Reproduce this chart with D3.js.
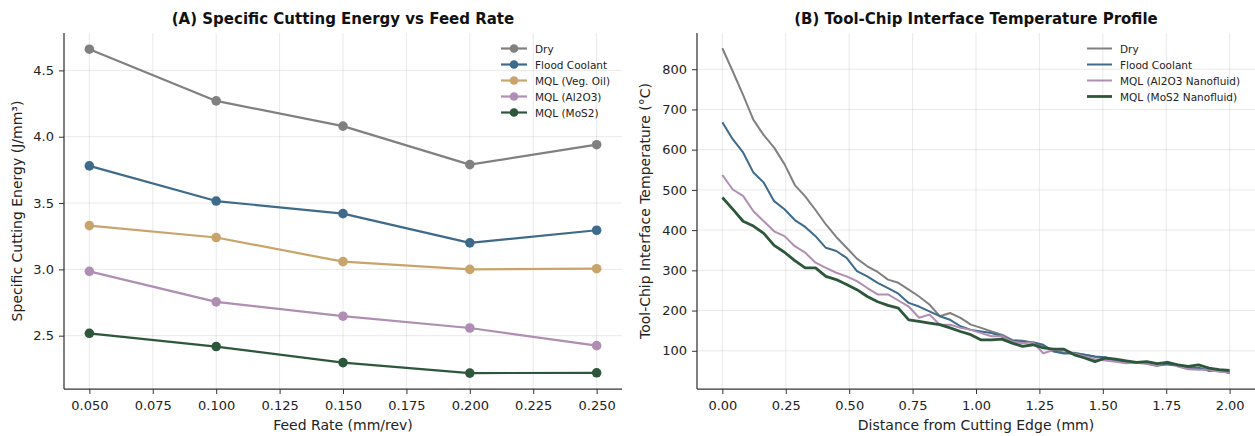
<!DOCTYPE html>
<html><head><meta charset="utf-8">
<script src="https://cdn.jsdelivr.net/npm/d3@7"></script>
<style>
body{margin:0;background:#fff;}
svg{display:block;font-family:"DejaVu Sans",sans-serif;}
</style></head><body>
<svg id="chart" width="1255" height="436"></svg>
<script>
// ---------- Panel A data ----------
const feedRates = [0.05, 0.10, 0.15, 0.20, 0.25];
const energyDry = [4.66, 4.27, 4.08, 3.79, 3.94];
const energyFlood = [3.78, 3.515, 3.42, 3.20, 3.295];
const energyVeg = [3.33, 3.24, 3.058, 3.00, 3.005];
const energyAl2O3 = [2.985, 2.755, 2.647, 2.558, 2.425];
const energyMoS2 = [2.518, 2.418, 2.297, 2.218, 2.22];
const feedTicks = [0.050, 0.075, 0.100, 0.125, 0.150, 0.175, 0.200, 0.225, 0.250];
const energyTicks = [2.5, 3.0, 3.5, 4.0, 4.5];

// ---------- Panel B data ----------
const distance = d3.range(50).map(i => i * 2 / 49); // 50 sample positions 0..2 mm
const tempDry = [852,795,736,674,636,605,564,512,484,450,414,383,356,329,310,296,277,269,252,235,215,186,194,182,165,157,148,140,127,125,120,112,100,96,95,90,85,80,76,72,70,68,62,68,65,60,56,52,52,48];
const tempFlood = [668,626,593,543,518,472,452,425,408,385,356,348,331,298,285,269,256,242,219,210,198,186,177,161,152,148,144,136,125,123,121,115,98,93,94,90,86,84,78,72,71,71,66,66,63,58,58,50,52,44];
const tempAl2O3 = [537,501,485,447,422,397,385,360,344,319,306,294,285,273,256,240,240,225,210,182,190,165,165,157,152,144,136,136,123,119,121,94,102,102,93,86,79,76,73,69,71,69,63,73,61,54,53,53,48,46];
const tempMoS2 = [481,452,422,410,392,362,345,324,306,306,285,277,265,252,235,222,213,206,177,173,169,165,157,148,140,127,127,129,119,111,115,107,104,104,90,82,73,82,79,75,71,73,68,71,65,61,65,57,53,51];
const distTicks = [0, 0.25, 0.5, 0.75, 1.0, 1.25, 1.5, 1.75, 2.0];
const tempTicks = [100, 200, 300, 400, 500, 600, 700, 800];

const svg = d3.select("#chart");

const seriesA = [
  {name:"Dry", values:energyDry, color:"#808080"},
  {name:"Flood Coolant", values:energyFlood, color:"#3e6a8b"},
  {name:"MQL (Veg. Oil)", values:energyVeg, color:"#c9a46a"},
  {name:"MQL (Al2O3)", values:energyAl2O3, color:"#b08db3"},
  {name:"MQL (MoS2)", values:energyMoS2, color:"#2d573b"}
];
const seriesB = [
  {name:"Dry", values:tempDry, color:"#808080", w:2},
  {name:"Flood Coolant", values:tempFlood, color:"#3e6a8b", w:2},
  {name:"MQL (Al2O3 Nanofluid)", values:tempAl2O3, color:"#b08db3", w:2},
  {name:"MQL (MoS2 Nanofluid)", values:tempMoS2, color:"#2d573b", w:2.8}
];

function panel(cfg){
  const g = svg.append("g");
  const x = d3.scaleLinear().domain(cfg.xDomain).range([cfg.left, cfg.right]);
  const y = d3.scaleLinear().domain(cfg.yDomain).range([cfg.bottom, cfg.top]);
  // grid
  g.append("g").selectAll("line").data(cfg.xTicks).join("line")
    .attr("x1", d=>x(d)).attr("x2", d=>x(d)).attr("y1", cfg.top).attr("y2", cfg.bottom)
    .attr("stroke","#b0b0b0").attr("stroke-opacity",0.35).attr("stroke-width",0.8);
  g.append("g").selectAll("line").data(cfg.yTicks).join("line")
    .attr("y1", d=>y(d)).attr("y2", d=>y(d)).attr("x1", cfg.left).attr("x2", cfg.right)
    .attr("stroke","#b0b0b0").attr("stroke-opacity",0.35).attr("stroke-width",0.8);
  // axes
  const xa = g.append("g").attr("transform",`translate(0,${cfg.bottom})`)
    .call(d3.axisBottom(x).tickValues(cfg.xTicks).tickFormat(d3.format(cfg.xFmt)).tickSizeOuter(0).tickSize(5).tickPadding(7));
  const ya = g.append("g").attr("transform",`translate(${cfg.left},0)`)
    .call(d3.axisLeft(y).tickValues(cfg.yTicks).tickFormat(d3.format(cfg.yFmt)).tickSizeOuter(0).tickSize(5).tickPadding(5));
  [xa,ya].forEach(a=>{
    a.select(".domain").attr("stroke","#333").attr("stroke-width",1.25);
    a.selectAll(".tick line").attr("stroke","#333").attr("stroke-width",1);
    a.selectAll(".tick text").attr("fill","#222").style("font-size","13px").style("font-family","DejaVu Sans");
  });
  xa.select(".domain").attr("d",`M${cfg.left},0H${cfg.right}`);
  ya.select(".domain").attr("d",`M0,${cfg.top}V${cfg.bottom}`);
  // labels
  g.append("text").attr("x",(cfg.left+cfg.right)/2).attr("y",23.5).attr("text-anchor","middle")
    .style("font-size","15px").style("font-weight","bold").attr("fill","#111").text(cfg.title);
  g.append("text").attr("x",(cfg.left+cfg.right)/2).attr("y",430).attr("text-anchor","middle")
    .style("font-size","14px").attr("fill","#222").text(cfg.xLabel);
  g.append("text").attr("transform",`translate(${cfg.yLabelX},${(cfg.top+cfg.bottom)/2}) rotate(-90)`)
    .attr("text-anchor","middle").style("font-size","14px").attr("fill","#222").text(cfg.yLabel);
  // lines
  const line = d3.line().x((d,i)=>x(cfg.xs[i])).y(d=>y(d));
  cfg.series.forEach(s=>{
    g.append("path").datum(s.values).attr("d", line).attr("fill","none")
      .attr("stroke", s.color).attr("stroke-width", s.w || 2.2).attr("stroke-linejoin","round");
    if(cfg.markers){
      g.append("g").selectAll("circle").data(s.values).join("circle")
        .attr("cx",(d,i)=>x(cfg.xs[i])).attr("cy",d=>y(d)).attr("r",4.8).attr("fill",s.color);
    }
  });
  // legend
  const lg = g.append("g");
  cfg.series.forEach((s,i)=>{
    const yy = cfg.legY + i*cfg.legStep;
    lg.append("line").attr("x1",cfg.legX).attr("x2",cfg.legX+cfg.legLen).attr("y1",yy).attr("y2",yy)
      .attr("stroke",s.color).attr("stroke-width",s.w || 2.2);
    if(cfg.markers) lg.append("circle").attr("cx",cfg.legX+cfg.legLen/2).attr("cy",yy).attr("r",4.3).attr("fill",s.color);
    lg.append("text").attr("x",cfg.legX+cfg.legLen+8).attr("y",yy+4)
      .style("font-size","10.5px").attr("fill","#222").text(s.name);
  });
}

panel({
  left:64, right:622, top:33, bottom:389,
  xDomain:[0.04,0.26], yDomain:[2.098,4.782],
  xTicks:feedTicks, yTicks:energyTicks, xFmt:".3f", yFmt:".1f",
  xs:feedRates, series:seriesA, markers:true,
  title:"(A) Specific Cutting Energy vs Feed Rate",
  xLabel:"Feed Rate (mm/rev)", yLabel:"Specific Cutting Energy (J/mm³)", yLabelX:22,
  legX:501, legY:48.5, legStep:16, legLen:26
});
panel({
  left:697, right:1255, top:33, bottom:389,
  xDomain:[-0.1,2.1], yDomain:[5,890],
  xTicks:distTicks, yTicks:tempTicks, xFmt:".2f", yFmt:"d",
  xs:distance, series:seriesB, markers:false,
  title:"(B) Tool-Chip Interface Temperature Profile",
  xLabel:"Distance from Cutting Edge (mm)", yLabel:"Tool-Chip Interface Temperature (°C)", yLabelX:650,
  legX:1087, legY:48.5, legStep:16, legLen:25
});
</script>
</body></html>
